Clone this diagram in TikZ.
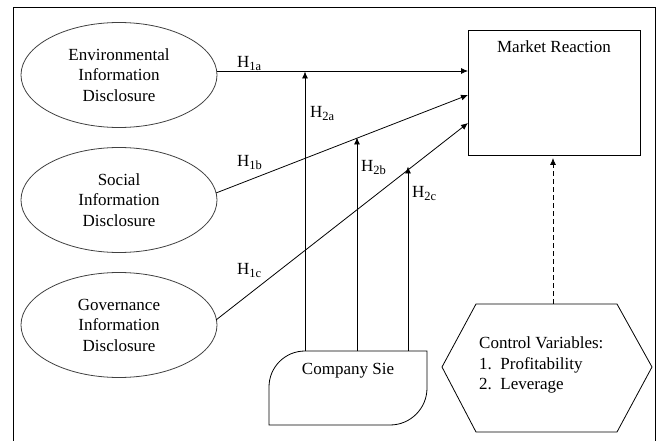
\documentclass[tikz,border=0pt]{standalone}
\usepackage{fontspec}
\setmainfont{Liberation Serif}
\usetikzlibrary{arrows.meta,shapes.geometric}
\newcommand{\Hs}[2]{H\raisebox{-0.35ex}{\fontsize{12.5}{12.5}\selectfont #2}}
\begin{document}
\begin{tikzpicture}[x=1pt,y=-1pt,
  txt/.style={font=\fontsize{17}{20.5}\selectfont, align=center, inner sep=0pt},
  ell/.style={draw=black!75, line width=0.8pt, ellipse, minimum width=196pt, minimum height=105pt, txt},
  arr/.style={line width=0.8pt, -{Latex[length=7pt,width=6pt]}},
  lab/.style={font=\fontsize{17}{20}\selectfont, inner sep=0pt}]
\useasboundingbox (0,0) rectangle (657,441);
\draw[line width=1pt] (13,441) -- (13,8) -- (655,8) -- (655,441);

\node[ell] (env) at (119,75) {Environmental\\Information\\Disclosure};
\node[ell] (soc) at (119,200) {Social\\Information\\Disclosure};
\node[ell] (gov) at (119,325) {Governance\\Information\\Disclosure};

\node[draw, line width=0.8pt, minimum width=172pt, minimum height=125pt, inner sep=0pt] (mr) at (554,92.5) {};
\node[txt, anchor=base] at (554,53) {Market Reaction};

% Company shape
\draw[line width=0.8pt] (269,425) -- (269,387) to[out=90,in=180] (305,351) -- (427,351) -- (427,388) to[out=-90,in=0] (390,425) -- cycle;
\node[txt] (comp) at (348,371) {Company Sie};

% Hexagon
\draw[line width=0.8pt] (476,304) -- (617,304) -- (652,367) -- (617,432) -- (476,432) -- (442,367) -- cycle;
\coordinate (hextop) at (553,304);
\node[txt, align=left, anchor=north west] (ctrl) at (479,337) {Control Variables:\\1.\ \ Profitability\\2.\ \ Leverage};

% Main arrows
\coordinate (e1) at (217,71);
\coordinate (m1) at (468,71);
\coordinate (e2) at (216,193);
\coordinate (m2) at (468,95);
\coordinate (e3) at (216,320);
\coordinate (m3) at (468,123);
\draw[arr] (e1) -- (m1);
\draw[arr] (e2) -- (m2);
\draw[arr] (e3) -- (m3);

% Moderating arrows
\coordinate (c1) at (305,351);
\coordinate (c2) at (357,351);
\coordinate (c3) at (408,351);
\draw[arr] (c1) -- (305,71.5);
\draw[arr] (c2) -- (357,137.5);
\draw[arr] (c3) -- (408,166.5);

% Dashed
\draw[arr, dash pattern=on 5pt off 3pt] (hextop) -- (553,158);

% Labels
\node[lab, anchor=base west] at (237,68) {\Hs{}{1a}};
\node[lab, anchor=base west] at (310,118) {\Hs{}{2a}};
\node[lab, anchor=base west] at (237,167) {\Hs{}{1b}};
\node[lab, anchor=base west] at (237,275) {\Hs{}{1c}};
\node[lab, anchor=base west] at (361,172) {\Hs{}{2b}};
\node[lab, anchor=base west] at (412,198) {\Hs{}{2c}};
\end{tikzpicture}
\end{document}
